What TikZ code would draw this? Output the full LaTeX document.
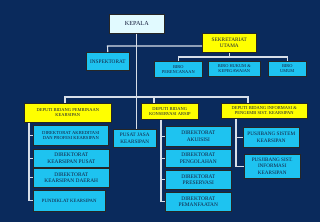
\documentclass[tikz,border=0pt]{standalone}
\usepackage{fontspec}
\setmainfont{Liberation Serif}
\definecolor{bg}{RGB}{10,42,92}
\definecolor{cyanbox}{RGB}{30,195,240}
\definecolor{yellowbox}{RGB}{255,255,0}
\definecolor{kepalabox}{RGB}{225,250,255}
\definecolor{linecol}{RGB}{215,222,232}
\definecolor{txt}{RGB}{20,28,60}
\tikzset{
  box/.style={draw=black!85, line width=0.6pt, inner sep=0pt, anchor=north west, align=center, text=txt},
  cbox/.style={box, fill=cyanbox},
  ybox/.style={box, fill=yellowbox},
  kbox/.style={box, fill=kepalabox},
  conn/.style={draw=linecol, line width=1.1pt},
  fs/.style={font=\fontsize{#1pt}{\dimexpr #1pt*6/5\relax}\selectfont},
}
\begin{document}
\begin{tikzpicture}[x=1pt,y=-1pt]
\fill[bg] (0,0) rectangle (320,222);
\useasboundingbox (0,0) rectangle (320,222);
\coordinate (j1) at (107.5,46);
\coordinate (m1) at (65,97);
\coordinate (m2) at (154,97);
\coordinate (m3) at (248,97);
\coordinate (s1) at (29,0);
\coordinate (s2) at (161,0);
\coordinate (s3) at (236,0);
% boxes
\node[kbox, fs=6.2, minimum width=55pt, minimum height=19pt] (kepala) at (109,14) {KEPALA};
\node[cbox, fs=5.3, minimum width=43pt, minimum height=18pt] (insp) at (86,52) {INSPEKTORAT};
\node[ybox, fs=5.3, minimum width=54pt, minimum height=19pt] (sek) at (202,33) {SEKRETARIAT\\UTAMA};
\node[cbox, fs=4.4, minimum width=48pt, minimum height=16pt] (biro1) at (154,61) {BIRO\\PERENCANAAN};
\node[cbox, fs=4.4, minimum width=52pt, minimum height=15pt] (biro2) at (208,61) {BIRO HUKUM \&\\KEPEGAWAIAN};
\node[cbox, fs=4.4, minimum width=38pt, minimum height=15pt] (biro3) at (268,61) {BIRO\\UMUM};
\node[ybox, fs=4.5, minimum width=87pt, minimum height=19pt] (d1) at (24,103) {DEPUTI BIDANG PEMBINAAN\\KEARSIPAN};
\node[ybox, fs=4.5, minimum width=57pt, minimum height=16pt] (d2) at (141,103) {DEPUTI BIDANG\\KONSERVASI ARSIP};
\node[ybox, fs=4.5, minimum width=86pt, minimum height=15pt] (d3) at (221,103) {DEPUTI BIDANG INFORMASI \&\\PENGEMB SIST. KEARSIPAN};
\node[cbox, fs=5.2, minimum width=43pt, minimum height=18pt] (pusat) at (113,129) {PUSAT JASA\\KEARSIPAN};
\node[cbox, fs=4.6, minimum width=75pt, minimum height=20pt] (a1) at (33,125) {DIREKTORAT AKREDITASI\\DAN PROFESI KEARSIPAN};
\node[cbox, fs=5.4, minimum width=76pt, minimum height=18pt] (a2) at (33,149) {DIREKTORAT\\KEARSIPAN PUSAT};
\node[cbox, fs=5.4, minimum width=76pt, minimum height=19pt] (a3) at (33,168) {DIREKTORAT\\KEARSIPAN DAERAH};
\node[cbox, fs=4.8, minimum width=72pt, minimum height=21pt] (a4) at (33,190) {PUNDIKLAT KEARSIPAN};
\node[cbox, fs=5.4, minimum width=66pt, minimum height=20pt] (b1) at (165,126) {DIREKTORAT\\AKUISISI};
\node[cbox, fs=5.4, minimum width=66pt, minimum height=18pt] (b2) at (165,149) {DIREKTORAT\\PENGOLAHAN};
\node[cbox, fs=5.4, minimum width=66pt, minimum height=19pt] (b3) at (165,170) {DIREKTORAT\\PRESERVASI};
\node[cbox, fs=5.4, minimum width=66pt, minimum height=19pt] (b4) at (165,192) {DIREKTORAT\\PEMANFAATAN};
\node[cbox, fs=5.2, minimum width=56pt, minimum height=20pt] (c1) at (243,127) {PUSJIBANG SISTEM\\KEARSIPAN};
\node[cbox, fs=5.2, minimum width=56pt, minimum height=24pt] (c2) at (244,154) {PUSJIBANG SIST.\\INFORMASI\\KEARSIPAN};
% connectors
\draw[conn] (kepala.south) -- (kepala.south |- pusat.north);
\draw[conn] (insp.north) -- (j1) -- (j1 -| sek.west);
\draw[conn] (sek.south) -- ([yshift=4pt]biro2.north -| sek.south);
\draw[conn] (biro1.north) -- ([yshift=4pt]biro1.north) -| (biro3.north);
\draw[conn] (m1 |- d1.north) -- (m1) -- (m3) -- (m3 |- d3.north);
\draw[conn] (m2) -- (m2 |- d2.north);
\draw[conn] (s1 |- d1.south) -- (s1 |- a4.west) -- (a4.west);
\draw[conn] (s1 |- a1.west) -- (a1.west);
\draw[conn] (s1 |- a2.west) -- (a2.west);
\draw[conn] (s1 |- a3.west) -- (a3.west);
\draw[conn] (s2 |- d2.south) -- (s2 |- b4.west) -- (b4.west);
\draw[conn] (s2 |- b1.west) -- (b1.west);
\draw[conn] (s2 |- b2.west) -- (b2.west);
\draw[conn] (s2 |- b3.west) -- (b3.west);
\draw[conn] (s3 |- d3.south) -- (s3 |- c2.west) -- (c2.west);
\draw[conn] (s3 |- c1.west) -- (c1.west);
\end{tikzpicture}
\end{document}
